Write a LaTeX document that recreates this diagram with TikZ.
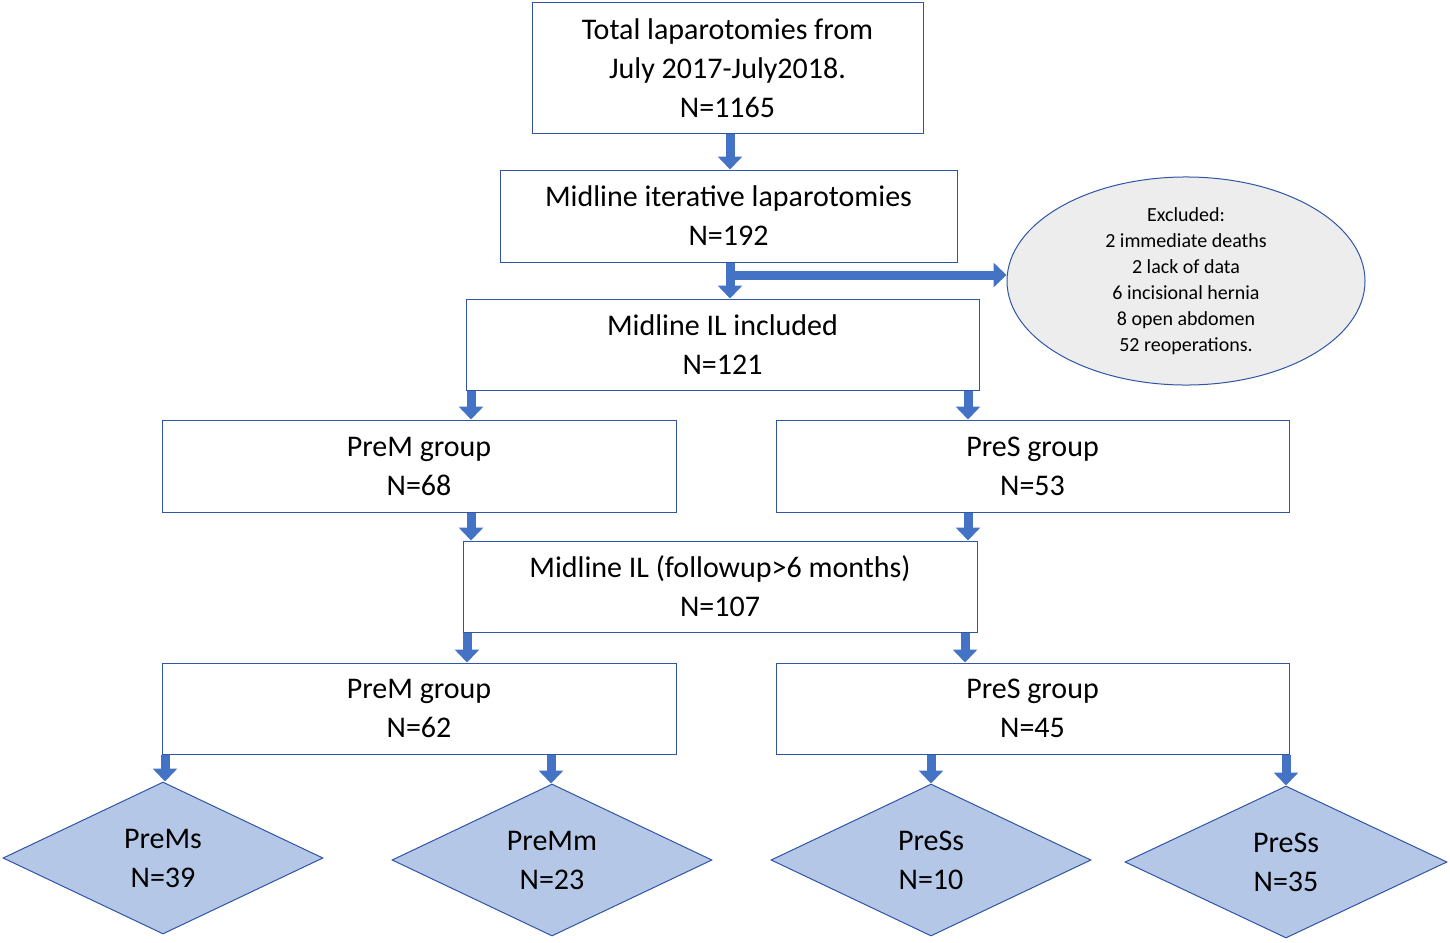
\documentclass[tikz,border=0pt]{standalone}
\usepackage{fontspec}
\setmainfont{Carlito}
\usetikzlibrary{shapes.geometric,arrows.meta}
\definecolor{bord}{HTML}{2F55A4}
\definecolor{arr}{HTML}{4472C4}
\definecolor{dia}{HTML}{B4C7E7}
\definecolor{ell}{HTML}{EDEDED}
\begin{document}
\begin{tikzpicture}[x=1pt,y=-1pt,
 box/.style={draw=bord,line width=1pt,fill=white,inner sep=0pt,align=center,font=\fontsize{30}{39}\selectfont},
 dm/.style={diamond,draw=bord,line width=1pt,fill=dia,inner sep=0pt,align=center,font=\fontsize{30}{39}\selectfont},
 ar/.style={draw=arr,line width=9pt,-{Triangle[width=24pt,length=13pt]}},
 ]
\useasboundingbox (0,0) rectangle (1450,942);
\node[box,minimum width=391,minimum height=130] (b1) at (727.5,68) {Total laparotomies from\\July 2017-July2018.\\N=1165};
\node[box,minimum width=457,minimum height=92] (b2) at (728.5,216) {Midline iterative laparotomies\\N=192};
\node[box,minimum width=513,minimum height=91] (b3) at (722.5,344.5) {Midline IL included\\N=121};
\node[box,minimum width=514,minimum height=92] (b4) at (419,466) {PreM group\\N=68};
\node[box,minimum width=513,minimum height=92] (b5) at (1032.5,466) {PreS group\\N=53};
\node[box,minimum width=514,minimum height=91] (b6) at (720,586.5) {Midline IL (followup>6 months)\\N=107};
\node[box,minimum width=514,minimum height=91] (b7) at (419,708.5) {PreM group\\N=62};
\node[box,minimum width=513,minimum height=91] (b8) at (1032.5,708.5) {PreS group\\N=45};
\node[ellipse,draw=bord,line width=1pt,fill=ell,minimum width=358,minimum height=170,inner sep=0pt,align=center,font=\fontsize{20}{26}\selectfont] (ex) at (1186,281)
 {Excluded:\\2 immediate deaths\\2 lack of data\\6 incisional hernia\\8 open abdomen\\52 reoperations.};
\node[dm,minimum width=320,minimum height=152] (d1) at (163,858) {PreMs\\N=39};
\node[dm,minimum width=320,minimum height=152] (d2) at (552,860) {PreMm\\N=23};
\node[dm,minimum width=320,minimum height=152] (d3) at (931,860) {PreSs\\N=10};
\node[dm,minimum width=322,minimum height=152] (d4) at (1286,862) {PreSs\\N=35};
\coordinate (h) at (730,275);
\draw[ar] (b1.south -| 730,0) -- (b2.north -| 730,0);
\draw[ar] (b2.south -| 730,0) -- (b3.north -| 730,0);
\draw[ar] (h) -- (ex.west |- h);
\draw[ar] (b3.south -| 471,0) -- (b4.north -| 471,0);
\draw[ar] (b3.south -| 968,0) -- (b5.north -| 968,0);
\draw[ar] (b4.south -| 471,0) -- (b6.north -| 471,0);
\draw[ar] (b5.south -| 968,0) -- (b6.north -| 968,0);
\draw[ar] (b6.south -| 467,0) -- (b7.north -| 467,0);
\draw[ar] (b6.south -| 965,0) -- (b8.north -| 965,0);
\draw[ar] (b7.south -| 165,0) -- (d1.north -| 165,0);
\draw[ar] (b7.south -| 551,0) -- (d2.north -| 551,0);
\draw[ar] (b8.south -| 931,0) -- (d3.north -| 931,0);
\draw[ar] (b8.south -| 1286,0) -- (d4.north -| 1286,0);
\end{tikzpicture}
\end{document}
